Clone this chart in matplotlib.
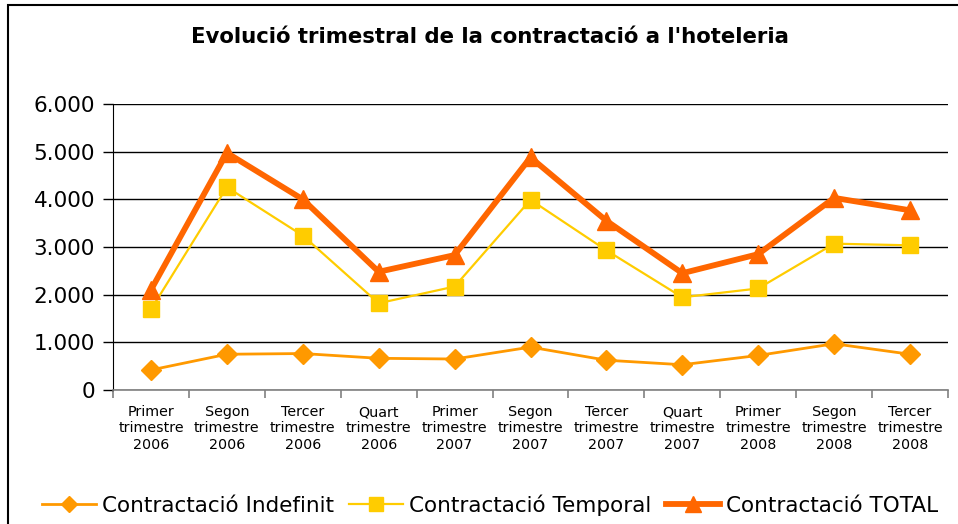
import matplotlib
matplotlib.use("Agg")
import matplotlib.pyplot as plt
import matplotlib.ticker as mtick
from matplotlib.patches import Rectangle

# ── Data ─────────────────────────────────────────────
quarters = ["Primer\ntrimestre\n2006", "Segon\ntrimestre\n2006", "Tercer\ntrimestre\n2006",
            "Quart\ntrimestre\n2006", "Primer\ntrimestre\n2007", "Segon\ntrimestre\n2007",
            "Tercer\ntrimestre\n2007", "Quart\ntrimestre\n2007", "Primer\ntrimestre\n2008",
            "Segon\ntrimestre\n2008", "Tercer\ntrimestre\n2008"]
indefinit = [420, 750, 765, 665, 650, 900, 625, 530, 725, 970, 750]
temporal = [1690, 4255, 3240, 1820, 2170, 3990, 2930, 1945, 2130, 3070, 3035]
total = [2100, 4975, 4000, 2480, 2830, 4880, 3550, 2450, 2850, 4030, 3770]
yticks = [0, 1000, 2000, 3000, 4000, 5000, 6000]

C_IND = "#FF9900"
C_TEMP = "#FFCC00"
C_TOT = "#FF6600"

fig = plt.figure(figsize=(9.58, 5.24), dpi=100)
ax = fig.add_axes([113 / 958, 1 - 390 / 524, (948 - 113) / 958, (390 - 104) / 524])

x = list(range(len(quarters)))
ax.plot(x, indefinit, color=C_IND, linewidth=2, marker="D", markersize=10,
        label="Contractació Indefinit", zorder=3)
ax.plot(x, temporal, color=C_TEMP, linewidth=1.6, marker="s", markersize=12,
        label="Contractació Temporal", zorder=4)
ax.plot(x, total, color=C_TOT, linewidth=4.2, marker="^", markersize=13,
        label="Contractació TOTAL", zorder=5)

# ── Axes styling ─────────────────────────────────────
ax.set_xlim(-0.5, len(quarters) - 0.5)
ax.set_ylim(0, 6000)
ax.set_yticks(yticks)
ax.yaxis.set_major_formatter(mtick.FuncFormatter(lambda v, _: f"{v:,.0f}".replace(",", ".")))
ax.tick_params(axis="y", labelsize=15.5, length=7, width=1, color="black", pad=6)
ax.grid(axis="y", color="black", linewidth=1)
ax.set_axisbelow(True)

ax.set_xticks(x)
ax.set_xticklabels(quarters, fontsize=10.3)
ax.tick_params(axis="x", which="major", length=0, pad=11)
ax.set_xticks([i - 0.5 for i in range(len(quarters) + 1)], minor=True)
ax.tick_params(axis="x", which="minor", length=6, width=1.2, color="#808080")

for s in ["top", "right"]:
    ax.spines[s].set_visible(False)
ax.spines["left"].set_color("black")
ax.spines["bottom"].set_color("#808080")
ax.spines["bottom"].set_linewidth(1.2)

fig.text(490 / 958, 1 - 37 / 524, "Evolució trimestral de la contractació a l'hoteleria",
         ha="center", va="center", fontsize=15.3, fontweight="bold")

fig.legend(loc="center", bbox_to_anchor=(490 / 958, 1 - 505 / 524), ncol=3,
           frameon=False, fontsize=15.5, handlelength=2.5, handletextpad=0.28,
           columnspacing=0.7, markerscale=0.85)

# outer frame (left and top edges visible)
fig.patches.append(Rectangle((8 / 958, -0.1), 1.2, 1.1 - 5 / 524,
                             transform=fig.transFigure, fill=False,
                             edgecolor="black", linewidth=1.5))

fig.savefig("out.png", dpi=100)
